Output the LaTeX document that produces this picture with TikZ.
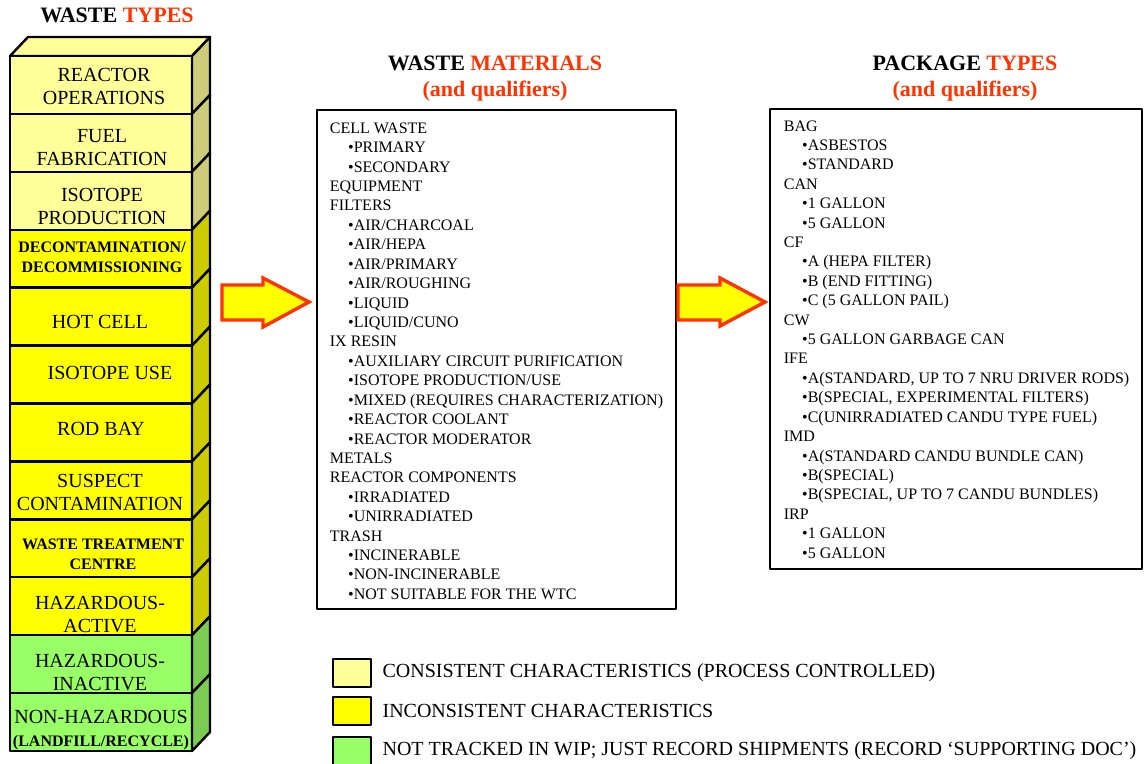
\documentclass[tikz,border=0pt]{standalone}
\usepackage{fontspec}
\setmainfont{Liberation Serif}
\usetikzlibrary{positioning}
\definecolor{paleY}{RGB}{255,255,153}
\definecolor{paleS}{RGB}{204,204,122}
\definecolor{fullY}{RGB}{255,255,0}
\definecolor{fullS}{RGB}{204,204,0}
\definecolor{grnF}{RGB}{153,255,102}
\definecolor{grnS}{RGB}{122,204,82}
\definecolor{hot}{RGB}{255,51,0}

\begin{document}
\begin{tikzpicture}[x=0.5pt,y=-0.5pt,line join=round,line cap=round,
	facebox/.style={draw=black,line width=1.2pt},
	blockarrow/.style={draw=hot,fill=fullY,line width=1.7pt,line join=miter},
	boxtxt/.style={align=center,font=\fontsize{10}{11.5}\selectfont,inner sep=0pt},
	boldtxt/.style={align=center,font=\bfseries\fontsize{8}{10}\selectfont,inner sep=0pt},
	listtxt/.style={anchor=base west,font=\fontsize{8}{9.7}\selectfont,inner sep=0pt},
	heading/.style={font=\bfseries\fontsize{11}{13}\selectfont,inner sep=0pt},
	keybox/.style={draw=black,line width=1.2pt,minimum width=19pt,minimum height=14pt,inner sep=0pt},
	keytxt/.style={font=\fontsize{10}{12}\selectfont,inner sep=0pt}]
		\useasboundingbox (0,0) rectangle (1145,764);
		\node[heading] (hType) at (117,15) {WASTE \textcolor{hot}{TYPES}};
		\node[heading] (hMat) at (495,63) {WASTE \textcolor{hot}{MATERIALS}};
		\node[heading,text=hot] (hMatQ) at (495,91) {(and qualifiers)};
		\node[heading] (hPkg) at (965,63) {PACKAGE \textcolor{hot}{TYPES}};
		\node[heading,text=hot] (hPkgQ) at (965,91) {(and qualifiers)};
		\draw[facebox,fill=paleY] (10,56) -- (28,37) -- (210,37) -- (192,56) -- cycle;
		\foreach \i/\f/\s in {1/paleY/paleS,2/paleY/paleS,3/paleY/paleS,4/fullY/fullS,5/fullY/fullS,6/fullY/fullS,7/fullY/fullS,8/fullY/fullS,9/fullY/fullS,10/fullY/fullS,11/grnF/grnS,12/grnF/grnS}{
			\pgfmathsetmacro\ya{56+57.92*(\i-1)}
			\pgfmathsetmacro\yb{56+57.92*\i}
			\draw[facebox,fill=\f] (10,\ya) rectangle (192,\yb);
			\draw[facebox,fill=\s] (192,\ya) -- (210,\ya-19) -- (210,\yb-19) -- (192,\yb) -- cycle;}
		\foreach \n/\x/\y/\st/\t in {1/104/86/boxtxt/{REACTOR\\OPERATIONS},2/102/147.5/boxtxt/{FUEL\\FABRICATION},3/102/206/boxtxt/{ISOTOPE\\PRODUCTION},4/102/257/boldtxt/{DECONTAMINATION/\\DECOMMISSIONING},5/100/322/boxtxt/{HOT CELL},6/110/372.5/boxtxt/{ISOTOPE USE},7/101/428.5/boxtxt/{ROD BAY},8/100/492/boxtxt/{SUSPECT\\CONTAMINATION},9/103/554.5/boldtxt/{WASTE TREATMENT\\CENTRE},10/100/615/boxtxt/{HAZARDOUS-\\ACTIVE},11/100/673/boxtxt/{HAZARDOUS-\\INACTIVE},12/101/730/boxtxt/{NON-HAZARDOUS\\{\bfseries\fontsize{8}{10}\selectfont(LANDFILL/RECYCLE)}}}{
			\node[\st] (t\n) at (\x,\y) {\t};}
		\draw[blockarrow] (222,285) -- (263,285) -- (263,278) -- (309,302) -- (263,327) -- (263,320) -- (222,320) -- cycle;
		\draw[facebox] (317,110) rectangle (676,609);
		\draw[blockarrow] (678,285) -- (720,285) -- (720,278) -- (765,302) -- (720,326) -- (720,320) -- (678,320) -- cycle;
		\draw[facebox] (770,109) rectangle (1142,569);
		\foreach [count=\k] \l/\t in {0/{CELL WASTE},1/{PRIMARY},1/{SECONDARY},0/{EQUIPMENT},0/{FILTERS},1/{AIR/CHARCOAL},1/{AIR/HEPA},1/{AIR/PRIMARY},1/{AIR/ROUGHING},1/{LIQUID},1/{LIQUID/CUNO},0/{IX RESIN},1/{AUXILIARY CIRCUIT PURIFICATION},1/{ISOTOPE PRODUCTION/USE},1/{MIXED (REQUIRES CHARACTERIZATION)},1/{REACTOR COOLANT},1/{REACTOR MODERATOR},0/{METALS},0/{REACTOR COMPONENTS},1/{IRRADIATED},1/{UNIRRADIATED},0/{TRASH},1/{INCINERABLE},1/{NON-INCINERABLE},1/{NOT SUITABLE FOR THE WTC}}{
			\node[listtxt] (m\k) at (329.5+18.3*\l,133.3+19.42*\k-19.42) {\ifnum\l=1 •\fi\t};}
		\foreach [count=\k] \l/\t in {0/{BAG},1/{ASBESTOS},1/{STANDARD},0/{CAN},1/{1 GALLON},1/{5 GALLON},0/{CF},1/{A (HEPA FILTER)},1/{B (END FITTING)},1/{C (5 GALLON PAIL)},0/{CW},1/{5 GALLON GARBAGE CAN},0/{IFE},1/{A(STANDARD, UP TO 7 NRU DRIVER RODS)},1/{B(SPECIAL, EXPERIMENTAL FILTERS)},1/{C(UNIRRADIATED CANDU TYPE FUEL)},0/{IMD},1/{A(STANDARD CANDU BUNDLE CAN)},1/{B(SPECIAL)},1/{B(SPECIAL, UP TO 7 CANDU BUNDLES)},0/{IRP},1/{1 GALLON},1/{5 GALLON}}{
			\node[listtxt] (p\k) at (783.5+18.3*\l,131.2+19.4*\k-19.4) {\ifnum\l=1 •\fi\t};}
		\node[keybox,fill=paleY] (k1) at (352,673) {};
		\node[keybox,fill=fullY] (k2) at (352,711) {};
		\node[keybox,fill=grnF] (k3) at (352,751) {};
		\node[keytxt,right=5pt of k1] (l1) {CONSISTENT CHARACTERISTICS (PROCESS CONTROLLED)};
		\node[keytxt,right=5pt of k2] (l2) {INCONSISTENT CHARACTERISTICS};
		\node[keytxt,right=5pt of k3] (l3) {NOT TRACKED IN WIP; JUST RECORD SHIPMENTS (RECORD ‘SUPPORTING DOC’)};
\end{tikzpicture}
\end{document}
